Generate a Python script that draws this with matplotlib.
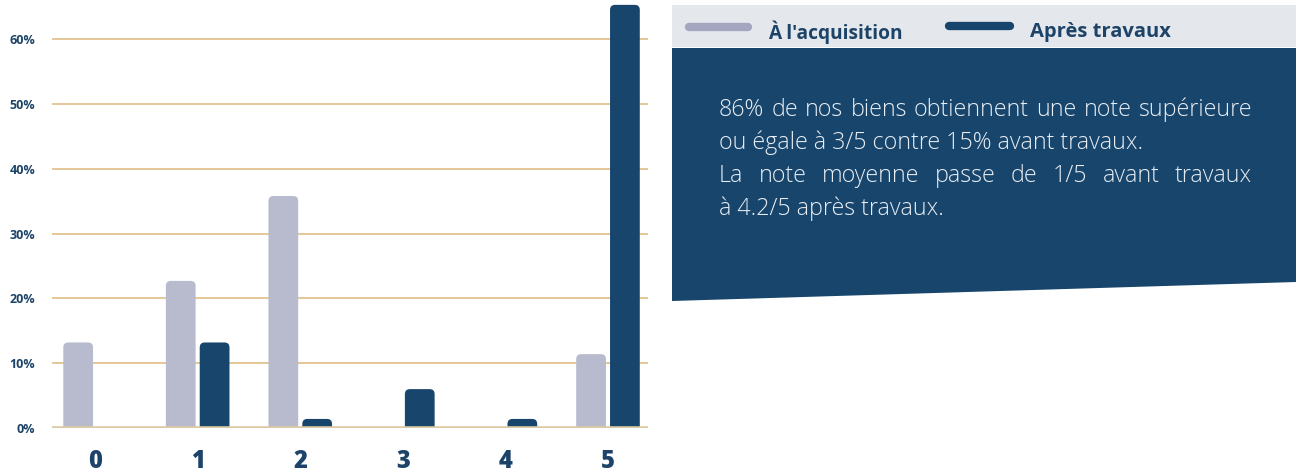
import matplotlib
matplotlib.use("Agg")
import matplotlib.pyplot as plt
from matplotlib.patches import FancyBboxPatch, Polygon, Rectangle
from matplotlib.lines import Line2D
import numpy as np

# ---- data ----
categories = ["0", "1", "2", "3", "4", "5"]
acquisition = [13.2, 22.7, 35.8, 0.0, 0.0, 11.4]
apres_travaux = [0.0, 13.2, 1.4, 6.0, 1.4, 65.3]
y_ticks = [0, 10, 20, 30, 40, 50, 60]
y_tick_labels = ["0%", "10%", "20%", "30%", "40%", "50%", "60%"]
legend_labels = ["À l'acquisition", "Après travaux"]
text_lines = [
    "86% de nos biens obtiennent une note supérieure",
    "ou égale à 3/5 contre 15% avant travaux.",
    "La note moyenne passe de 1/5 avant travaux",
    "à 4.2/5 après travaux.",
]
justify = [True, False, True, False]

GRAY = "#B8BBCE"
NAVY = "#17456B"
GRID = "#E2C38C"
BASE = "#DCCAA4"
TXT = "#1D4468"
BOLDFONT = "Open Sans"

W, H = 1296, 472
fig = plt.figure(figsize=(W / 100, H / 100), dpi=100)
fig.patch.set_facecolor("white")

ax_left, ax_right, ax_bottom, ax_top = 52, 648, 428, 0
ax = fig.add_axes([ax_left / W, (H - ax_bottom) / H,
                   (ax_right - ax_left) / W, (ax_bottom - ax_top) / H])
ax.set_xlim(-0.42, 5.39)
ax.set_ylim(0, 66.05)

x = np.arange(len(categories))
bw = 0.29
off = 0.165
bars1 = ax.bar(x - off, acquisition, bw, color=GRAY, zorder=3)
bars2 = ax.bar(x + off, apres_travaux, bw, color=NAVY, zorder=3)

# replace by rounded-top bars
fig.canvas.draw()
px_x = (ax_right - ax_left) / (5.39 + 0.42)     # px per x unit
px_y = (ax_bottom - ax_top) / 66.05             # px per y unit
aspect = px_x / px_y
r = 5 / px_x
for bars in (bars1, bars2):
    for b in bars:
        h = b.get_height()
        if h <= 0:
            b.set_visible(False)
            continue
        ext = 6 / px_y
        fb = FancyBboxPatch((b.get_x(), -ext), b.get_width(), h + ext,
                            boxstyle=f"round,pad=0,rounding_size={r}",
                            mutation_aspect=aspect,
                            facecolor=b.get_facecolor(), edgecolor="none",
                            zorder=3, clip_on=True)
        ax.add_patch(fb)
        b.set_visible(False)

for yv in y_ticks[1:]:
    ax.axhline(yv, color=GRID, lw=1.3, zorder=1)
ax.axhline(0, color=BASE, lw=2.6, zorder=4)

for s in ax.spines.values():
    s.set_visible(False)
ax.set_yticks(y_ticks)
ax.set_yticklabels(y_tick_labels, fontsize=9, fontweight="bold", color=TXT,
                   family=BOLDFONT)
ax.set_xticks(x)
ax.set_xticklabels(categories, fontsize=17, fontweight="heavy", color=TXT,
                   family=BOLDFONT)
ax.tick_params(axis="y", length=0, pad=12)
ax.tick_params(axis="x", length=0, pad=15)
ax.set_facecolor("none")

# ---- right panel ----
def fx(px):
    return px / W

def fy(py):
    return 1 - py / H

# legend band
fig.patches.append(Rectangle((fx(672), fy(47)), fx(1296) - fx(672), fy(5) - fy(47),
                             transform=fig.transFigure, facecolor="#E4E8ED",
                             edgecolor="none", zorder=0))
# navy box with slanted bottom
fig.patches.append(Polygon([(fx(672), fy(48)), (fx(1296), fy(48)),
                            (fx(1296), fy(282)), (fx(672), fy(301))],
                           closed=True, transform=fig.transFigure,
                           facecolor=NAVY, edgecolor="none", zorder=0))

fig.add_artist(Line2D([fx(689), fx(748)], [fy(27), fy(27)], transform=fig.transFigure,
                      color="#A3A6BE", lw=6, solid_capstyle="round"))
fig.text(fx(768), fy(32), legend_labels[0], fontsize=13.8, fontweight="bold",
         color=TXT, family=BOLDFONT, va="center", ha="left")
fig.add_artist(Line2D([fx(949), fx(1010)], [fy(26), fy(26)], transform=fig.transFigure,
                      color=NAVY, lw=6, solid_capstyle="round"))
fig.text(fx(1030), fy(32), legend_labels[1], fontsize=14.5, fontweight="bold",
         color=TXT, family=BOLDFONT, va="center", ha="left")

# paragraph text (justified lines)
renderer = fig.canvas.get_renderer()
x0, x1 = 719, 1252
line_y = [110, 143, 176, 209]
tkw = dict(fontsize=14, color="#E8EDF3", family="Open Sans", fontweight="light",
           va="center", ha="left")
# fit font size so the first line fills the text width
probe = fig.text(0, 0, text_lines[0], **tkw)
wprobe = probe.get_window_extent(renderer).width
probe.remove()
tkw["fontsize"] = 14 * (x1 - x0) / wprobe * 0.99

for line, yy, just in zip(text_lines, line_y, justify):
    if not just:
        fig.text(fx(x0), fy(yy), line, **tkw)
        continue
    words = line.split(" ")
    arts = [fig.text(fx(x0), fy(yy), w_, **tkw) for w_ in words]
    widths = [a.get_window_extent(renderer).width for a in arts]
    gap = (x1 - x0 - sum(widths)) / (len(words) - 1)
    cur = x0
    for a, wdt in zip(arts, widths):
        a.set_x(fx(cur))
        cur += wdt + gap

fig.savefig("out.png", dpi=100)
